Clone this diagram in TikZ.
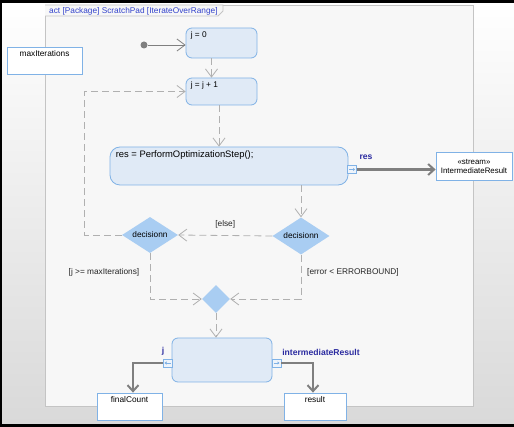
\documentclass[tikz,border=0pt]{standalone}
\usepackage{fontspec}
\setmainfont{Liberation Sans}
\usetikzlibrary{shapes.geometric,arrows.meta}
\definecolor{actfill}{HTML}{E0EAF6}
\definecolor{actdraw}{HTML}{80B2E6}
\definecolor{decfill}{HTML}{A9CDF2}
\definecolor{flowc}{HTML}{B0B0B0}
\definecolor{objc}{HTML}{7F7F7F}
\definecolor{pinblue}{HTML}{2B2BA0}
\definecolor{titleblue}{HTML}{3343CC}
\definecolor{framefill}{HTML}{F7F7F7}
\definecolor{framedraw}{HTML}{C4C4C4}
\definecolor{pinfill}{HTML}{EEF4FB}
\begin{document}
\begin{tikzpicture}[x=1pt,y=-1pt,
  font=\fontsize{8.3}{10}\selectfont,
  action/.style={draw=actdraw, fill=actfill, rounded corners=6pt, line width=0.8pt, inner sep=0pt},
  objbox/.style={draw=actdraw, fill=white, line width=0.8pt, inner sep=0pt},
  decision/.style={diamond, fill=decfill, inner sep=0pt, aspect=1.54},
  pinbox/.style={draw=actdraw, fill=pinfill, line width=0.7pt, minimum width=9pt, minimum height=8pt, inner sep=0pt},
  pinarrow/.style={draw=actdraw, line width=0.6pt, -{Triangle[length=2pt,width=3pt]}},
  flow/.style={draw=flowc, line width=0.8pt, dash pattern=on 7pt off 4pt, -{Straight Barb[length=8pt,width=12pt]}},
  initflow/.style={draw=objc, line width=0.8pt, -{Straight Barb[length=8pt,width=12pt]}},
  obj/.style={draw=objc, line width=2.6pt, -{Straight Barb[length=6pt,width=11pt,line width=2pt]}},
  pinlabel/.style={text=pinblue, font=\fontsize{8.6}{10}\selectfont\bfseries, inner sep=0pt},
  txt/.style={inner sep=0pt},
  guard/.style={inner sep=0pt, text=black!85}
]
\useasboundingbox (0,0) rectangle (514,427);
% background
\shade[top color=white, bottom color=black!15] (0,0) rectangle (514,427);
% frame
\draw[framedraw, fill=framefill, line width=0.8pt] (45,5) rectangle (473,406);
\draw[framedraw, fill=framefill, line width=0.8pt] (45,5) -- (223,5) -- (223,11) -- (218,16) -- (45,16);
\node[txt, anchor=west, text=titleblue] (title) at (49,11) {act [Package] ScratchPad [IterateOverRange]};
% black border
\fill[black] (0,0) rectangle (514,3);
\fill[black] (0,0) rectangle (2,427);
\fill[black] (0,424) rectangle (514,427);

% object box maxIterations
\node[objbox, minimum width=75pt, minimum height=27pt] (maxit) at (44.5,60.5) {};
\node[txt, anchor=north] at ([yshift=-4pt]maxit.north) {maxIterations};

% initial node
\node[circle, fill=objc, minimum size=7pt, inner sep=0pt] (init) at (144,45) {};

% actions
\node[action, minimum width=71pt, minimum height=30pt] (j0) at (221.5,43) {};
\node[txt, anchor=north west] at ([shift={(5,4)}]j0.north west) {j = 0};
\node[action, minimum width=71pt, minimum height=27pt] (j1) at (221.5,91.5) {};
\node[txt, anchor=north west] at ([shift={(5,4)}]j1.north west) {j = j + 1};
\node[action, rounded corners=10pt, minimum width=238pt, minimum height=38pt] (res) at (229,166) {};
\node[txt, anchor=north west, font=\fontsize{9.4}{11}\selectfont] at ([shift={(6,4)}]res.north west) {res = PerformOptimizationStep();};
\node[pinbox] (pres) at (352,169.5) {};
\draw[pinarrow] ([xshift=-3pt]pres.center) -- ([xshift=3pt]pres.center);
\node[pinlabel] at (366,157) {res};

% IntermediateResult
\node[objbox, minimum width=76pt, minimum height=28pt, font=\fontsize{7.9}{9}\selectfont, align=center] (ir) at (474,166) {«stream»\\IntermediateResult};

% decisions
\node[decision, minimum width=57pt, minimum height=37pt] (dR) at (301,236) {decisionn};
\node[decision, minimum width=56pt, minimum height=36pt] (dL) at (150,235) {decisionn};
\node[decision, aspect=1, minimum width=28pt, minimum height=28pt] (merge) at (216,299) {};

% bottom action
\node[action, minimum width=100pt, minimum height=44pt] (act) at (222,360) {};
\node[pinbox] (pJ) at (167.5,363) {};
\draw[pinarrow] ([xshift=3pt]pJ.center) -- ([xshift=-3pt]pJ.center);
\node[pinbox] (pR) at (276.5,363) {};
\draw[pinarrow] ([xshift=-3pt]pR.center) -- ([xshift=3pt]pR.center);
\node[pinlabel] at (163,351) {j};
\node[pinlabel] at (321,352) {intermediateResult};

% output boxes
\node[objbox, minimum width=65pt, minimum height=27pt] (fc) at (129.5,406.5) {};
\node[txt, anchor=north] at ([yshift=-4pt]fc.north) {finalCount};
\node[objbox, minimum width=62pt, minimum height=27pt] (rs) at (315,406.5) {};
\node[txt, anchor=north] at ([yshift=-4pt]rs.north) {result};

% control flows
\draw[initflow] (init) -- (init -| j0.west);
\draw[flow] ([xshift=-10pt]j0.south) -- ([xshift=-10pt]j1.north);
\draw[flow] ([xshift=-2.5pt]j1.south) -- ([xshift=-2.5pt]j1.south |- res.north);
\draw[flow] (res.south -| dR.north) -- (dR.north);
\draw[flow] (dR.west) -- node[guard, above=7pt] {[else]} (dL.east);
\draw[flow] (dL.west) -- ++(-37,0) |- (j1.west);
\draw[flow] (dL.south) |- (merge.west);
\draw[flow] (dR.south) |- (merge.east);
\node[guard] at (104,272) {[j >= maxIterations]};
\node[guard] at (353,272) {[error < ERRORBOUND]};
\draw[flow] (merge.south) -- (merge.south |- act.north);

% object flows
\draw[obj] (pres.east) -- (pres.east -| ir.west);
\draw[obj] (pJ.west) -| ([xshift=3.5pt]fc.north);
\draw[obj] (pR.east) -| ([xshift=-2pt]rs.north);
\end{tikzpicture}
\end{document}
